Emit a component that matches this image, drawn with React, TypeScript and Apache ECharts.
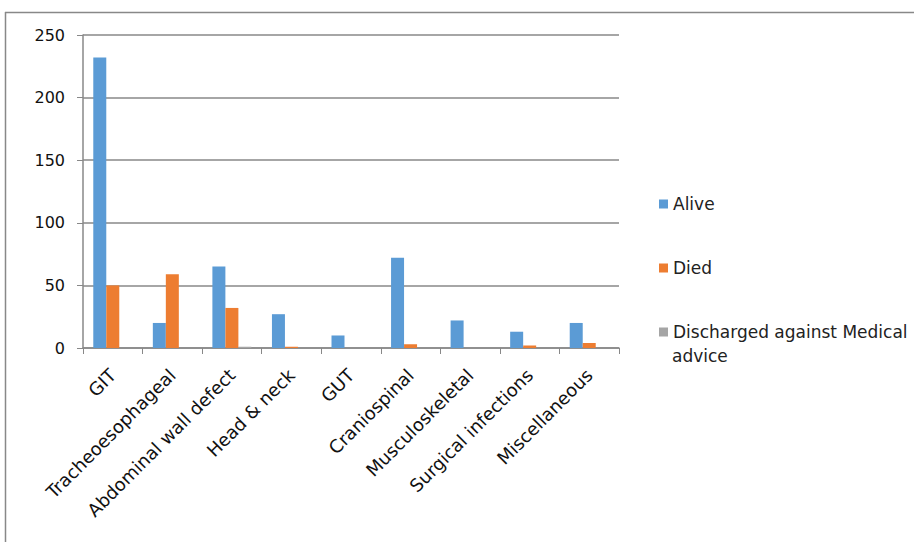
import React, { useEffect, useRef } from "react";
import * as echarts from "echarts";

const categories = [
  "GIT",
  "Tracheoesophageal",
  "Abdominal wall defect",
  "Head & neck",
  "GUT",
  "Craniospinal",
  "Musculoskeletal",
  "Surgical infections",
  "Miscellaneous",
];
const alive = [232, 20, 65, 27, 10, 72, 22, 13, 20];
const died = [50, 59, 32, 1, 0, 3, 0, 2, 4];
const discharged = [0, 0, 1, 0, 0, 0, 0, 0, 0];
const seriesNames = ["Alive", "Died", "Discharged against Medical advice"];
const yTicks = { min: 0, max: 250, interval: 50 };

export default function App() {
  const ref = useRef<HTMLDivElement>(null);
  useEffect(() => {
    if (!ref.current) return;
    const chart = echarts.init(ref.current, undefined, { renderer: "svg" });
    const font = "'DejaVu Sans', sans-serif";
    const colors = ["#5B9BD5", "#ED7D31", "#A5A5A5"];
    const data = [alive, died, discharged];
    chart.setOption({
      animation: false,
      backgroundColor: "#ffffff",
      textStyle: { fontFamily: font },
      grid: { left: 83, top: 35, right: 295, bottom: 194 },
      legend: {
        orient: "vertical",
        left: 654,
        top: 189,
        itemWidth: 9,
        itemHeight: 9,
        itemGap: 44,
        icon: "rect",
        textStyle: { fontSize: 17, color: "#222", fontFamily: font, lineHeight: 20 },
        formatter: (name: string) =>
          name === "Discharged against Medical advice" ? "Discharged against Medical" : name,
        data: seriesNames,
      },
      graphic: [
        { type: "line", shape: { x1: 5, y1: 12.5, x2: 914, y2: 12.5 }, style: { stroke: "#888", lineWidth: 1.5 } },
        { type: "line", shape: { x1: 5.5, y1: 12, x2: 5.5, y2: 542 }, style: { stroke: "#888", lineWidth: 1.5 } },
        {
          type: "text",
          left: 672,
          top: 347,
          style: { text: "advice", fontSize: 17, fill: "#222", fontFamily: font },
        },
      ],
      xAxis: {
        type: "category",
        data: categories,
        axisLine: { lineStyle: { color: "#888", width: 1.5 } },
        axisTick: { show: true, length: 6, lineStyle: { color: "#888" } },
        axisLabel: {
          rotate: 45,
          interval: 0,
          margin: 24,
          fontSize: 18,
          color: "#111",
          fontFamily: font,
        },
      },
      yAxis: {
        type: "value",
        min: yTicks.min,
        max: yTicks.max,
        interval: yTicks.interval,
        axisLine: { show: true, lineStyle: { color: "#888", width: 1.5 } },
        axisTick: { show: true, length: 6, lineStyle: { color: "#888" } },
        splitLine: { lineStyle: { color: "#888", width: 1.5 } },
        axisLabel: { fontSize: 16, color: "#111", margin: 18, fontFamily: font },
      },
      series: seriesNames.map((name, i) => ({
        name,
        type: "bar",
        data: data[i],
        barWidth: 13,
        barGap: "0%",
        itemStyle: { color: colors[i] },
      })),
    });
    return () => chart.dispose();
  }, []);
  return <div ref={ref} style={{ width: 914, height: 542, position: "absolute", left: 0, top: 0 }} />;
}
